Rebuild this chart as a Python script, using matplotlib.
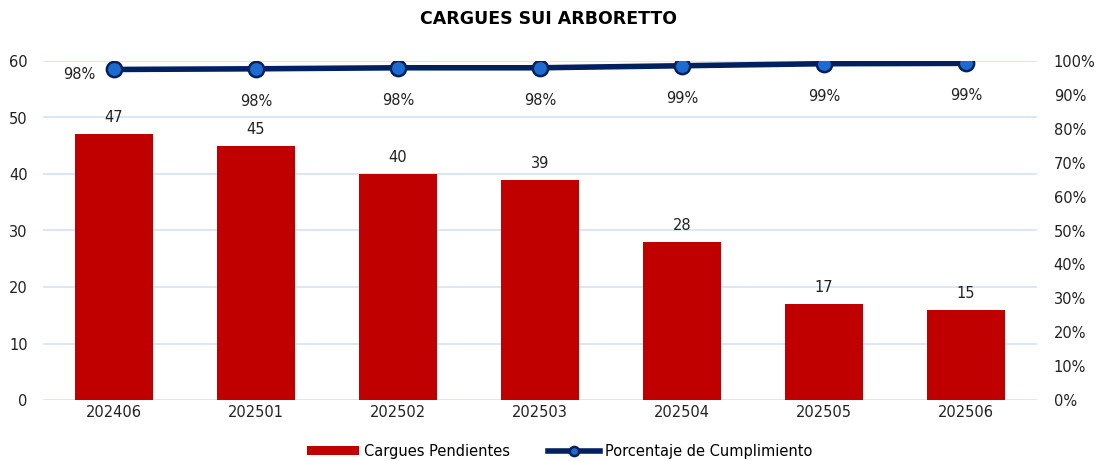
import matplotlib.pyplot as plt
import numpy as np

# Données
periodos = ['202406', '202501', '202502', '202503', '202504', '202505', '202506']
cargues = [47, 45, 40, 39, 28, 17, 16]
etiquetas_cargues = ['47', '45', '40', '39', '28', '17', '15']
cumplimiento = [97.5, 97.7, 98.0, 98.0, 98.6, 99.2, 99.3]
etiquetas_pct = ['98%', '98%', '98%', '98%', '99%', '99%', '99%']

plt.rcParams['font.family'] = ['DejaVu Sans']

fig = plt.figure(figsize=(10.97, 4.61), dpi=100)
ax = fig.add_axes([43 / 1097, 1 - 400 / 461, (1037 - 43) / 1097, (400 - 61) / 461])
x = np.arange(len(periodos))

ax.bar(x, cargues, width=0.55, color='#C00000', zorder=2, label='Cargues Pendientes')
for xi, v, t in zip(x, cargues, etiquetas_cargues):
    ax.text(xi, v + 1.6, t, ha='center', va='bottom', fontsize=10.5, color='#222222')

ax.set_xlim(-0.5, len(periodos) - 0.5)
ax.set_ylim(0, 60)
ax.set_yticks(range(0, 61, 10))
ax.set_xticks(x)
ax.set_xticklabels(periodos)
ax.grid(axis='y', color='#D6E3F4', linewidth=1.2, zorder=0)
ax.set_axisbelow(True)
for s in ax.spines.values():
    s.set_visible(False)
ax.tick_params(length=0, labelsize=10.5, colors='#222222')
ax.tick_params(axis='y', pad=11)

ax2 = ax.twinx()
ax2.plot(x, cumplimiento, color='#002060', linewidth=4, marker='o', markersize=11,
         markerfacecolor='#1E6BD0', markeredgecolor='#002060', markeredgewidth=1.8,
         zorder=3, label='Porcentaje de Cumplimiento')
ax2.set_ylim(0, 100)
ax2.set_yticks(range(0, 101, 10))
ax2.set_yticklabels([f'{v}%' for v in range(0, 101, 10)])
for s in ax2.spines.values():
    s.set_visible(False)
ax2.tick_params(length=0, labelsize=10.5, colors='#222222', pad=12)

for i, (xi, v, t) in enumerate(zip(x, cumplimiento, etiquetas_pct)):
    if i == 0:
        ax2.text(xi - 0.13, v - 1.6, t, ha='right', va='center', fontsize=10.5, color='#222222')
    else:
        ax2.text(xi, v - 9.6, t, ha='center', va='center', fontsize=10.5, color='#222222')

fig.suptitle('CARGUES SUI ARBORETTO', y=0.978, fontsize=12.5, fontweight='bold')

h1, l1 = ax.get_legend_handles_labels()
h2, l2 = ax2.get_legend_handles_labels()
fig.legend(h1 + h2, l1 + l2, loc='center', bbox_to_anchor=(0.51, 1 - 451 / 461), ncol=2,
           frameon=False, fontsize=10.5, handlelength=3.6, handleheight=0.6,
           handletextpad=0.3, columnspacing=2.6, markerscale=0.6)

plt.savefig('out.png', dpi=100)
